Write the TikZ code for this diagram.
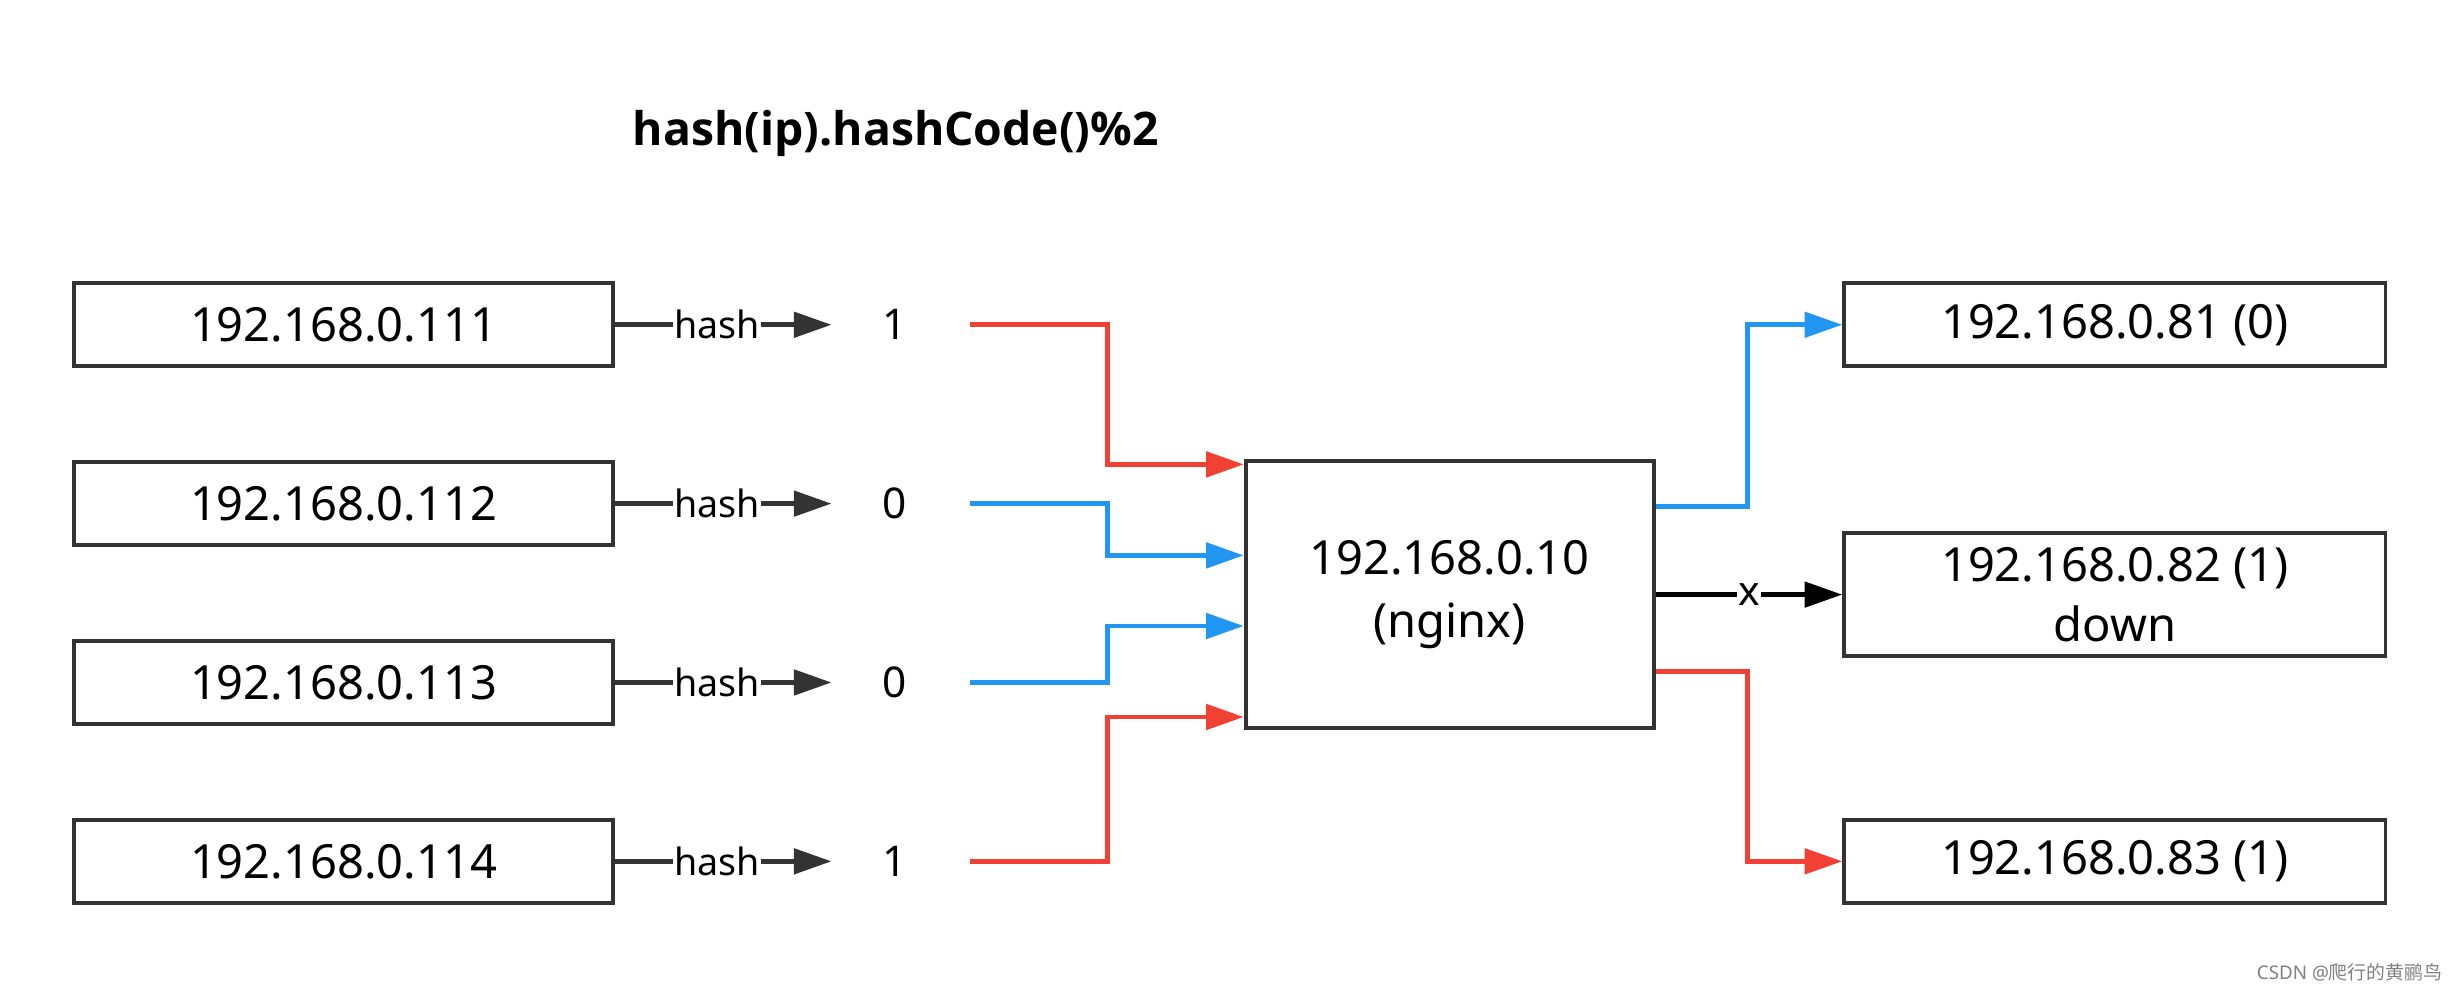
\documentclass[tikz,border=0pt]{standalone}
\usepackage{fontspec}
\setmainfont{Noto Sans}
\newfontfamily\tb{Open Sans}
\newfontfamily\cjk{Noto Sans CJK SC}
\usetikzlibrary{arrows.meta}
\definecolor{myred}{HTML}{F04134}
\definecolor{myblue}{HTML}{2196F3}
\definecolor{dk}{HTML}{333333}
\begin{document}
\begin{tikzpicture}[x=1pt,y=-1pt,
 box/.style={draw=dk,line width=2.5pt,minimum height=53pt,inner sep=0pt,font=\fontsize{30}{36}\selectfont},
 lbox/.style={box,minimum width=344pt},
 num/.style={font=\fontsize{27}{30}\selectfont},
 tip/.style={-{Triangle[length=24pt,width=16pt]}},
 hl/.style={font=\fontsize{24}{26}\selectfont,fill=white,inner sep=1pt},
 cl/.style={line width=3pt,tip}]
\useasboundingbox (0,0) rectangle (1568,635);
\node[font=\tb\bfseries\fontsize{29.5}{32}\selectfont] (t) at (571,85) {hash(ip).hashCode()\%2};
\foreach \i/\y/\n in {1/207/1,2/321/0,3/435/0,4/549/1}{
  \node[lbox] (L\i) at (219,\y) {192.168.0.11\i};
  \node[num] (N\i) at (570,\y) {\n};
  \coordinate (H\i) at (530,\y);
  \draw[dk,line width=3pt,tip] (L\i.east) -- (H\i);
  \node[hl] at (457,\y) {hash};
}
\node[draw=dk,line width=2.5pt,minimum width=260pt,minimum height=170pt,align=center,font=\fontsize{30}{40}\selectfont] (C) at (924,379) {192.168.0.10\\(nginx)};
\coordinate (s1) at (618,207);\coordinate (s2) at (618,321);
\coordinate (s3) at (618,435);\coordinate (s4) at (618,549);
\draw[myred,cl] (s1) -| (706,296) -- (C.west|-0,296);
\draw[myblue,cl] (s2) -| (706,354) -- (C.west|-0,354);
\draw[myblue,cl] (s3) -| (706,399) -- (C.west|-0,399);
\draw[myred,cl] (s4) -| (706,457) -- (C.west|-0,457);
\node[box,minimum width=345pt] (R1) at (1348,207) {192.168.0.81 (0)};
\node[box,minimum width=345pt,minimum height=78pt,align=center,font=\fontsize{30}{38}\selectfont] (R2) at (1348,379) {192.168.0.82 (1)\\down};
\node[box,minimum width=345pt] (R3) at (1348,549) {192.168.0.83 (1)};
\draw[myblue,cl] (C.east|-0,323) -| (1114,207) -- (R1.west);
\draw[black,cl] (C.east) -- (R2.west) node[midway,hl,font=\fontsize{26}{28}\selectfont] {x};
\draw[myred,cl] (C.east|-0,428) -| (1114,549) -- (R3.west);
\node[anchor=east,text=gray,font=\fontsize{12}{14}\selectfont] (w) at (1560,620) {CSDN @{\cjk 爬行的黄鹂鸟}};
\end{tikzpicture}
\end{document}
